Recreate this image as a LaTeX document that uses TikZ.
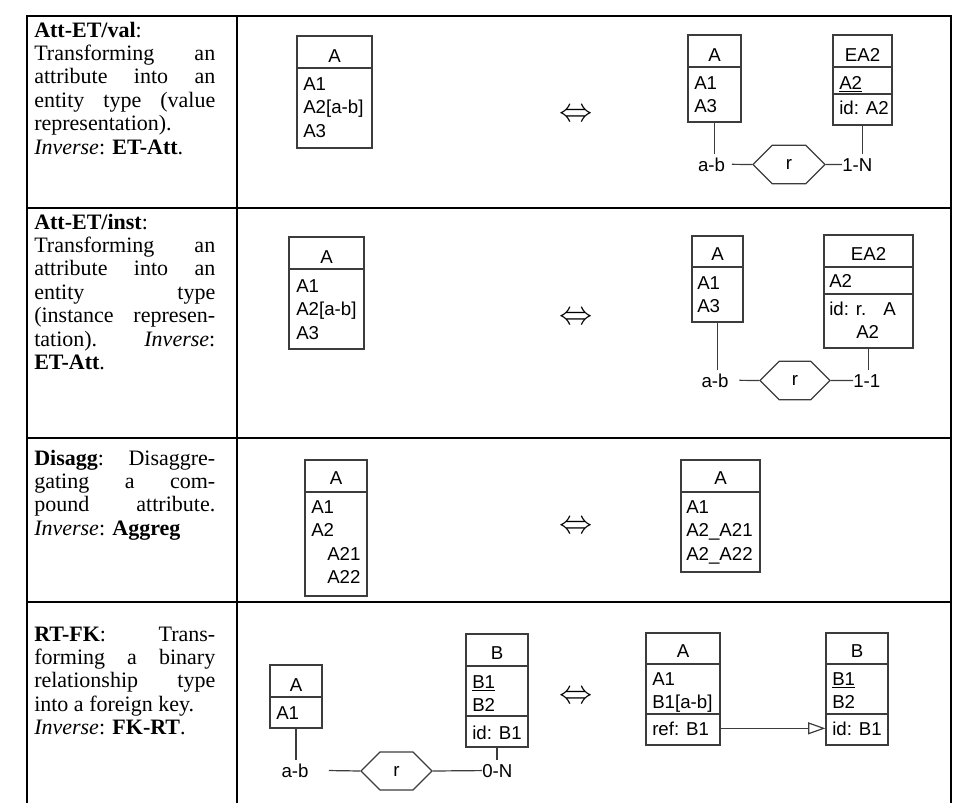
\documentclass[tikz,border=0pt]{standalone}
\usepackage{fontspec}
\setmainfont{Liberation Serif}
\newfontfamily\erfont{Liberation Sans}
\usepackage{tikz}
\usetikzlibrary{positioning,arrows.meta,calc,fit,shapes.symbols}
\definecolor{erline}{RGB}{60,60,60}
\pretolerance=10000
\tolerance=10000
\hbadness=10000
\tikzset{
  grid/.style={line width=1.5pt, black},
  descr/.style={anchor=base west, inner sep=0pt, text width=135.75pt, align=justify,
                font=\fontsize{16.5}{17.6}\selectfont},
  ent/.style={draw=erline, line width=0.9pt, inner sep=0pt},
  sep/.style={draw=erline, line width=0.9pt},
  ename/.style={anchor=base, inner sep=0pt, font=\erfont\fontsize{14}{16}\selectfont},
  attr/.style={anchor=base west, inner sep=0pt, font=\erfont\fontsize{14}{16}\selectfont},
  rel/.style={signal, signal to=east and west, draw=erline, line width=0.9pt, inner sep=0pt,
              minimum height=29pt, font=\erfont\fontsize{14}{16}\selectfont},
  card/.style={anchor=base, inner xsep=5pt, inner ysep=2.6pt, font=\erfont\fontsize{14}{16}\selectfont},
  cardr/.style={card, anchor=base west, inner xsep=0pt},
  link/.style={draw=erline, line width=0.9pt},
  fk/.style={link, -{Triangle[open, length=13pt, width=9pt]}},
  equiv/.style={inner sep=0pt, font=\fontsize{27.75}{28}\selectfont}
}
\begin{document}
\begin{tikzpicture}[x=0.75pt, y=-0.75pt]
  \useasboundingbox (0,0) rectangle (978,803);
  % table frame
  \draw[grid] (27,803) -- (27,16) -- (951,16) -- (951,803);
  \draw[grid] (237,16) -- (237,803);
  \draw[grid] (27,208) -- (951,208);
  \draw[grid] (27,438) -- (951,438);
  \draw[grid] (27,602) -- (951,602);

  % descriptions
  \node[descr] (d1) at (34,37) {\textbf{Att-ET/val}:\\ Transforming an\linebreak
    attribute into an\linebreak entity type (value\linebreak representation).\\
    \textit{Inverse}: \textbf{ET-Att}.};
  \node[descr] (d2) at (34,229) {\textbf{Att-ET/inst}:\\ Transforming an\linebreak
    attribute into an\linebreak entity type\linebreak (instance represen-\linebreak
    tation). \textit{Inverse}:\linebreak \textbf{ET-Att}.};
  \node[descr] (d3) at (34,465) {\textbf{Disagg}: Disaggre-\linebreak gating a com-\linebreak
    pound attribute.\linebreak \textit{Inverse}: \textbf{Aggreg}};
  \node[descr] (d4) at (34,641) {\textbf{RT-FK}: Trans-\linebreak forming a binary\linebreak
    relationship type\linebreak into a foreign key.\\ \textit{Inverse}: \textbf{FK-RT}.};

  % row 1: Att-ET/val
  \node[ent, fit={(297,36) (372,148)}] (e1a) {};
  \draw[sep] (e1a.west |- 0,68) -- (e1a.east |- 0,68);
  \node[ename] (e1an) at (334.5,62) {A};
  \node[attr] (e1a1) at (303,90) {A1};
  \node[attr] (e1a2) at (303,113.5) {A2[a-b]};
  \node[attr] (e1a3) at (303,137) {A3};
  \node[equiv] (eq1) at (576.5,115) {$\Leftrightarrow$};
  \node[ent, fit={(688,35) (741,122)}] (e1b) {};
  \draw[sep] (e1b.west |- 0,67) -- (e1b.east |- 0,67);
  \node[ename] (e1bn) at (714.5,61) {A};
  \node[attr] (e1b1) at (694,89) {A1};
  \node[attr] (e1b3) at (694,112.5) {A3};
  \node[ent, fit={(833,35) (892,125)}] (e1c) {};
  \draw[sep] (e1c.west |- 0,67) -- (e1c.east |- 0,67);
  \draw[sep] (e1c.west |- 0,94) -- (e1c.east |- 0,94);
  \node[ename] (e1cn) at (862.5,61) {EA2};
  \node[attr] (e1c1) at (839,89) {\underline{A2}};
  \node[attr] (e1c2) at (839,114) {id: A2};
  \node[rel, minimum width=54pt] (r1) at (789,164.5) {r};
  \node[card] (ab1) at (711.5,171) {a-b};
  \node[cardr] (n1) at (842,171) {1-N};
  \draw[link] (e1b.south) -- (e1b.south |- ab1.north);
  \draw[link] (ab1.east) -- (r1.west);
  \draw[link] (r1.east) -- (n1.west);
  \draw[link] (e1c.south) -- (e1c.south |- n1.north);

  % row 2: Att-ET/inst
  \node[ent, fit={(289,237) (364,349)}] (e2a) {};
  \draw[sep] (e2a.west |- 0,269) -- (e2a.east |- 0,269);
  \node[ename] (e2an) at (326.5,263) {A};
  \node[attr] (e2a1) at (296,292) {A1};
  \node[attr] (e2a2) at (296,315.5) {A2[a-b]};
  \node[attr] (e2a3) at (296,339) {A3};
  \node[equiv] (eq2) at (576.5,318) {$\Leftrightarrow$};
  \node[ent, fit={(692,236) (743,322)}] (e2b) {};
  \draw[sep] (e2b.west |- 0,267) -- (e2b.east |- 0,267);
  \node[ename] (e2bn) at (717.5,260) {A};
  \node[attr] (e2b1) at (697,289) {A1};
  \node[attr] (e2b3) at (697,312.5) {A3};
  \node[ent, fit={(824,235) (913,348)}] (e2c) {};
  \draw[sep] (e2c.west |- 0,267) -- (e2c.east |- 0,267);
  \draw[sep] (e2c.west |- 0,294) -- (e2c.east |- 0,294);
  \node[ename] (e2cn) at (868.5,260) {EA2};
  \node[attr] (e2c1) at (829,287) {A2};
  \node[attr] (e2c2) at (829,315) {id: r.};
  \node[attr] (e2c3) at (883,315) {A};
  \node[attr] (e2c4) at (856,338.5) {A2};
  \node[rel, minimum width=52.5pt] (r2) at (795,380.5) {r};
  \node[card] (ab2) at (715,387) {a-b};
  \node[cardr] (n2) at (853,387) {1-1};
  \draw[link] (e2b.south) -- (e2b.south |- ab2.north);
  \draw[link] ([xshift=3pt]ab2.east) -- (r2.west);
  \draw[link] (r2.east) -- (n2.west);
  \draw[link] (e2c.south) -- (e2c.south |- n2.north);

  % row 3: Disagg
  \node[ent, fit={(305,460) (367,596)}] (e3a) {};
  \draw[sep] (e3a.west |- 0,492) -- (e3a.east |- 0,492);
  \node[ename] (e3an) at (336,484) {A};
  \node[attr] (e3a1) at (311,513) {A1};
  \node[attr] (e3a2) at (311,536.5) {A2};
  \node[attr] (e3a3) at (327,560) {A21};
  \node[attr] (e3a4) at (327,583.5) {A22};
  \node[equiv] (eq3) at (576.5,527) {$\Leftrightarrow$};
  \node[ent, fit={(681,460) (760,572)}] (e3b) {};
  \draw[sep] (e3b.west |- 0,492) -- (e3b.east |- 0,492);
  \node[ename] (e3bn) at (720.5,484) {A};
  \node[attr] (e3b1) at (686,513) {A1};
  \node[attr] (e3b2) at (686,536.5) {A2\_A21};
  \node[attr] (e3b3) at (686,560) {A2\_A22};

  % row 4: RT-FK
  \node[ent, fit={(270,665) (322,728)}] (e4a) {};
  \draw[sep] (e4a.west |- 0,697) -- (e4a.east |- 0,697);
  \node[ename] (e4an) at (296,691) {A};
  \node[attr] (e4a1) at (276,719) {A1};
  \node[ent, fit={(466,634) (528,747)}] (e4b) {};
  \draw[sep] (e4b.west |- 0,666) -- (e4b.east |- 0,666);
  \draw[sep] (e4b.west |- 0,716) -- (e4b.east |- 0,716);
  \node[ename] (e4bn) at (497,659) {B};
  \node[attr] (e4b1) at (472,688) {\underline{B1}};
  \node[attr] (e4b2) at (472,711.5) {B2};
  \node[attr] (e4b3) at (472,739) {id: B1};
  \node[rel, minimum width=53.25pt, minimum height=28.5pt] (r4) at (396.5,771) {r};
  \node[card] (ab4) at (295,777) {a-b};
  \node[cardr] (n4) at (482,777) {0-N};
  \draw[link] (e4a.south) -- (e4a.south |- ab4.north);
  \draw[link, shorten <=10pt] (ab4.east) -- (r4.west);
  \draw[link] (r4.east) -- (n4.west);
  \draw[link] (e4b.south) -- (e4b.south |- n4.north);
  \node[equiv] (eq4) at (576.5,697) {$\Leftrightarrow$};
  \node[ent, fit={(646,633) (720,745)}] (e4c) {};
  \draw[sep] (e4c.west |- 0,664) -- (e4c.east |- 0,664);
  \draw[sep] (e4c.west |- 0,714) -- (e4c.east |- 0,714);
  \node[ename] (e4cn) at (683,657) {A};
  \node[attr] (e4c1) at (652,685) {A1};
  \node[attr] (e4c2) at (652,708.5) {B1[a-b]};
  \node[attr] (rf4) at (652,735) {ref: B1};
  \node[ent, fit={(826,633) (888,745)}] (e4d) {};
  \draw[sep] (e4d.west |- 0,664) -- (e4d.east |- 0,664);
  \draw[sep] (e4d.west |- 0,714) -- (e4d.east |- 0,714);
  \node[ename] (e4dn) at (857,657) {B};
  \node[attr] (e4d1) at (832,685) {\underline{B1}};
  \node[attr] (e4d2) at (832,708.5) {B2};
  \node[attr] (id4) at (832,735) {id: B1};
  \draw[fk] (e4c.east |- rf4) -- (e4d.west |- rf4);
\end{tikzpicture}
\end{document}
